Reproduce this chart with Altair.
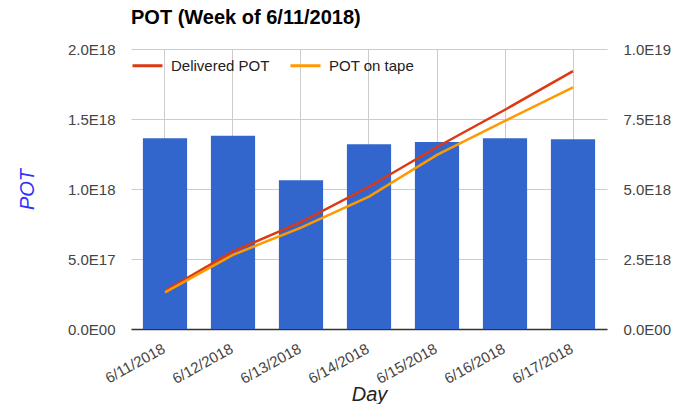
import altair as alt
import pandas as pd

days = ["6/11/2018", "6/12/2018", "6/13/2018", "6/14/2018", "6/15/2018", "6/16/2018", "6/17/2018"]
bar_pot = [1.363e18, 1.381e18, 1.063e18, 1.320e18, 1.336e18, 1.363e18, 1.356e18]
delivered = [1.36e18, 2.77e18, 3.82e18, 5.08e18, 6.50e18, 7.83e18, 9.21e18]
on_tape = [1.31e18, 2.65e18, 3.62e18, 4.73e18, 6.22e18, 7.43e18, 8.63e18]
series_names = ["Delivered POT", "POT on tape"]
series_colors = ["#dc3912", "#ff9900"]
left_ticks = [0, 5e17, 1e18, 1.5e18, 2e18]
right_ticks = [0, 2.5e18, 5e18, 7.5e18, 1e19]

FONT = "Liberation Sans"

bars_df = pd.DataFrame({"Day": days, "POT": bar_pot})
lines_df = pd.DataFrame({
    "Day": days * 2,
    "Value": delivered + on_tape,
    "Series": [series_names[0]] * len(days) + [series_names[1]] * len(days),
})

sci = ("datum.value == 0 ? '0.0E00' : format(datum.value / pow(10, floor(log(datum.value) / LN10 + 1e-9)), '.1f')"
       " + 'E' + floor(log(datum.value) / LN10 + 1e-9)")

x_enc = alt.X(
    "Day:N",
    sort=days,
    scale=alt.Scale(paddingInner=0.35, paddingOuter=0.175),
    axis=alt.Axis(
        title="Day", titleFontSize=20, titleFontStyle="italic", titleFontWeight="normal",
        titleColor="#222222", titleX=238, titleY=71, titleBaseline="alphabetic",
        labelAngle=-29, labelAlign="right", labelBaseline="middle", labelPadding=18,
        labelOffset=-1, labelFontSize=15, labelColor="#444444", ticks=False, bandPosition=0.5,
        grid=True, gridColor="#cccccc", domainColor="#333333", domainWidth=1.5,
    ),
)

bars = alt.Chart(bars_df).mark_bar(color="#3366cc").encode(
    x=x_enc,
    y=alt.Y(
        "POT:Q",
        scale=alt.Scale(domain=[0, 2e18], nice=False),
        axis=alt.Axis(
            title="POT", titleColor="#3333ff", titleFontSize=20, titleFontStyle="italic",
            titleFontWeight="normal", titleX=-104, titleY=140, titleBaseline="middle",
            values=left_ticks, labelExpr=sci, labelFontSize=15, labelColor="#444444",
            labelPadding=16, ticks=False, tickSize=0, domain=False,
            grid=True, gridColor="#cccccc",
        ),
    ),
)

lines = alt.Chart(lines_df).mark_line(strokeWidth=2.5).encode(
    x=alt.X("Day:N", sort=days),
    y=alt.Y(
        "Value:Q",
        scale=alt.Scale(domain=[0, 1e19], nice=False),
        axis=alt.Axis(
            title=None, orient="right", values=right_ticks, labelExpr=sci,
            labelFontSize=15, labelColor="#444444", labelPadding=16,
            ticks=False, tickSize=0, domain=False, grid=False,
        ),
    ),
    color=alt.Color(
        "Series:N",
        scale=alt.Scale(domain=series_names, range=series_colors),
        legend=alt.Legend(
            title=None, orient="none", legendX=0, legendY=0, direction="horizontal",
            symbolType="stroke", symbolSize=900, symbolStrokeWidth=3,
            labelFontSize=15, labelColor="#222222", labelOffset=7, columnPadding=14,
            labelFont=FONT,
        ),
    ),
)

chart = alt.layer(bars, lines).resolve_scale(y="independent").properties(
    width=476,
    height=280,
    autosize="none",
    padding={"left": 123, "top": 41, "right": 73, "bottom": 75},
    title=alt.TitleParams(
        "POT (Week of 6/11/2018)", anchor="start", frame="group", dx=0,
        fontSize=20, fontWeight="bold", color="#000000", font=FONT, offset=14,
    ),
).configure(font=FONT).configure_view(stroke=None)

chart.save("out.html", embed_options={"renderer": "svg", "actions": False})
